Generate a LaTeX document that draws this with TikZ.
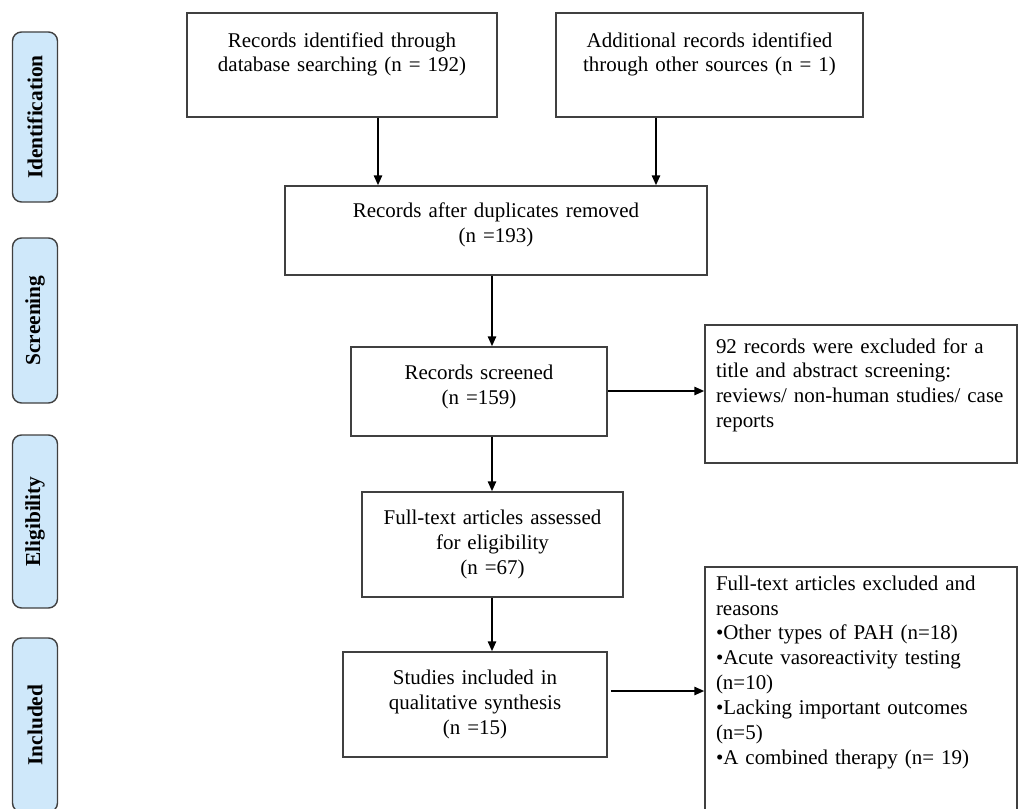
\documentclass[tikz,border=0pt]{standalone}
\usepackage{fontspec}
\setmainfont{Liberation Serif}
\usepackage{xcolor}
\usepackage{tikz}
\usetikzlibrary{arrows.meta,positioning}

\definecolor{boxgray}{HTML}{404040}
\definecolor{stagefill}{HTML}{CFE8FA}
\newcommand{\pxu}{0.025cm}

\tikzset{
  box/.style={draw=boxgray, line width=1.2pt, align=center, inner xsep=5*\pxu,
    font=\fontsize{14.9}{17.7}\selectfont},
  notebox/.style={box, align=left, inner xsep=11*\pxu, text width=290*\pxu},
  stage/.style={draw=boxgray, fill=stagefill, line width=1pt, rounded corners=9*\pxu,
    rotate=90, minimum height=45*\pxu, inner sep=0pt,
    font=\fontsize{15.2}{17.7}\selectfont\bfseries},
  arr/.style={-{Triangle[length=7pt,width=6pt]}, line width=1pt, black}
}

\begin{document}
\begin{tikzpicture}[x=0.025cm, y=-0.025cm]
    \useasboundingbox (0,0) rectangle (1018,808);

    % stage labels
    \node[stage, minimum width=170*\pxu] (idlab) at (35,117) {Identification};
    \node[stage, minimum width=165*\pxu] (scrlab) at (35,320.5) {Screening};
    \node[stage, minimum width=173*\pxu] (elilab) at (35,521.5) {Eligibility};
    \node[stage, minimum width=174*\pxu] (inclab) at (35,725) {Included};

    % main boxes
    \node[box, minimum width=310*\pxu, minimum height=104*\pxu, text width=300*\pxu, text depth=36pt]
      (ident) at (342,65) {Records identified through\\database searching (n = 192)};
    \node[box, minimum width=307*\pxu, minimum height=104*\pxu, text width=297*\pxu, text depth=36pt]
      (other) at (709.5,65) {Additional records identified\\through other sources (n = 1)};
    \node[box, minimum width=422*\pxu, minimum height=89*\pxu, text width=412*\pxu, text depth=28.4pt]
      (dup) at (496,230.5) {Records after duplicates removed\\(n =193)};
    \node[box, minimum width=256*\pxu, minimum height=89*\pxu, text width=246*\pxu, text depth=27pt]
      (screen) at (479,391.5) {Records screened\\(n =159)};
    \node[box, minimum width=261*\pxu, minimum height=105*\pxu, text width=251*\pxu]
      (assess) at (492.5,544.5) {Full-text articles assessed\\for eligibility\\(n =67)};
    \node[box, minimum width=264*\pxu, minimum height=105*\pxu, text width=254*\pxu]
      (incl) at (475,704.5) {Studies included in\\qualitative synthesis\\(n =15)};

    % exclusion boxes
    \node[notebox, minimum width=312*\pxu, minimum height=138*\pxu, text depth=68.8pt]
      (excla) at (861,394) {92 records were excluded for a\\title and abstract screening:\\reviews/ non-human studies/ case\\reports};
    \node[notebox, minimum width=312*\pxu, minimum height=263*\pxu, text depth=164.5pt]
      (exclb) at (861,698.5) {Full-text articles excluded and\\reasons\\\textbullet Other types of PAH (n=18)\\\textbullet Acute vasoreactivity testing\\(n=10)\\\textbullet Lacking important outcomes\\(n=5)\\\textbullet A combined therapy (n= 19)};

    % arrows
    \draw[arr] (ident.south -| 378,0) -- (dup.north -| 378,0);
    \draw[arr] (other.south -| 656,0) -- (dup.north -| 656,0);
    \draw[arr] (dup.south -| 492,0) -- (screen.north -| 492,0);
    \draw[arr] (screen.east |- 0,391) -- (excla.west |- 0,391);
    \draw[arr] (screen.south -| 492,0) -- (assess.north -| 492,0);
    \draw[arr] (assess.south -| 492,0) -- (incl.north -| 492,0);
    \draw[arr] ([xshift=3*\pxu]incl.east |- 0,691) -- (exclb.west |- 0,691);
\end{tikzpicture}
\end{document}
